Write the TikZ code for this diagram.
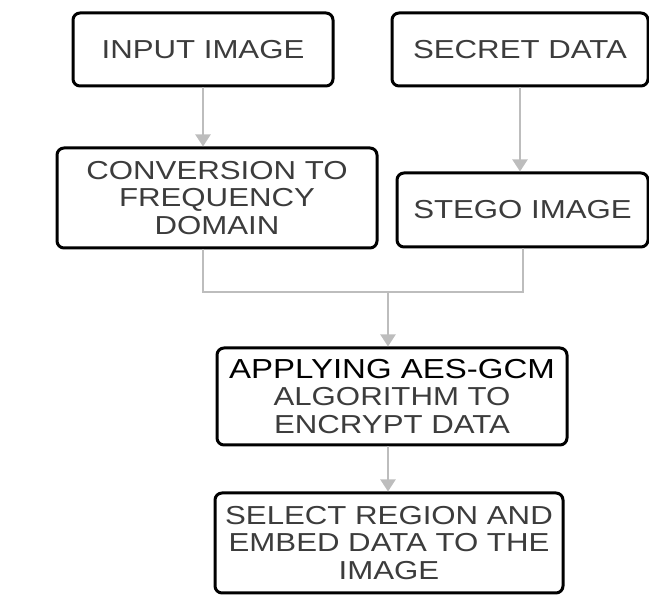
\documentclass[tikz,border=0pt]{standalone}
\usepackage{fontspec}
\setmainfont{Liberation Sans}[FakeStretch=1.2]
\usetikzlibrary{arrows.meta}
\definecolor{boxtext}{HTML}{3C3C3C}
\definecolor{flowline}{HTML}{BDBDBD}
\tikzset{
  stepbox/.style={draw=black, line width=3pt, rounded corners=7pt,
    align=center, text=boxtext, inner sep=0pt,
    font=\fontsize{26}{27.5}\selectfont},
  flow/.style={draw=flowline, line width=2pt},
  flowarr/.style={flow, -{Triangle[width=15pt,length=12pt]}}
}
\begin{document}
\begin{tikzpicture}[x=1pt,y=1pt]
  \useasboundingbox (0,0) rectangle (649,-601);
  % top row
  \node[stepbox, minimum width=260pt, minimum height=73pt] (in) at (203,-49.5) {INPUT IMAGE};
  \node[stepbox, minimum width=256pt, minimum height=73pt] (secret) at (520,-49.5) {SECRET DATA};
  % second row
  \node[stepbox, minimum width=320pt, minimum height=100pt] (conv) at (217,-198) {CONVERSION TO\\FREQUENCY\\DOMAIN};
  \node[stepbox, minimum width=251pt, minimum height=74pt] (stego) at (522.5,-210) {STEGO IMAGE};
  % lower steps
  \node[stepbox, minimum width=350pt, minimum height=97pt] (aes) at (392,-396.5)
    {{\color{black}\fontsize{27.5}{27.5}\selectfont APPLYING AES-GCM}\\ALGORITHM TO\\ENCRYPT DATA};
  \node[stepbox, minimum width=348pt, minimum height=100pt] (sel) at (389,-543)
    {SELECT REGION AND\\EMBED DATA TO THE\\IMAGE};
  \coordinate (mid) at (388,-292);
  % connectors
  \draw[flowarr] (in.south) -- (in.south |- conv.north);
  \draw[flowarr] (secret.south) -- (secret.south |- stego.north);
  \draw[flow] (conv.south -| in.south) |- (mid) -| (stego.south);
  \draw[flowarr] (mid) -- (mid |- aes.north);
  \draw[flowarr] (mid |- aes.south) -- (mid |- sel.north);
\end{tikzpicture}
\end{document}
